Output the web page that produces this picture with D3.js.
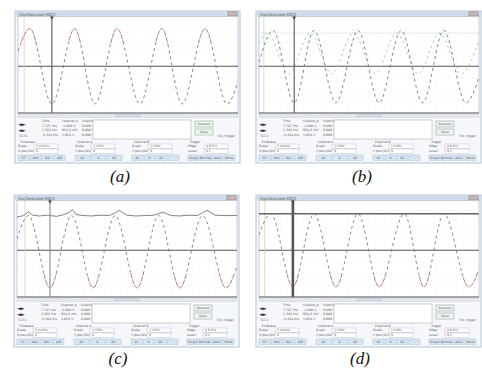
<!DOCTYPE html>
<html><head><meta charset="utf-8">
<script src="https://cdn.jsdelivr.net/npm/d3@7"></script>
<style>html,body{margin:0;padding:0;background:#fff;}svg{display:block;}</style>
</head><body>
<svg id="c" width="482" height="371"></svg>
<script>
// ---------- data ----------
const panelLabels = ["(a)", "(b)", "(c)", "(d)"];
const timeDomain = [0, 50];          // ms across the screen (10 div x 5 ms)
const voltDomain = [-1.24, 1.32];    // V
const gridT = [5, 10, 15, 20, 25, 30, 35, 40, 45];
const gridV = [-0.95, -0.63, -0.32, 0.32, 0.63, 0.95];

// (a) channel A sine: extrema
const aT = [0, 2.7, 7.7, 12.9, 17.5, 22.5, 27.7, 32.7, 37.3, 42.5, 47.5, 50];
const aV = [0.4, 1.0, -1.0, 1.0, -1.0, 1.0, -1.0, 1.0, -1.0, 1.0, -1.0, -0.4];
// (b) channel A (dark) and channel B (green)
const bT = [0, 3.2, 8.0, 12.5, 17.5, 22.5, 27.3, 32.3, 37.2, 42.0, 47.0, 50];
const bV = [0.1, 0.95, -0.97, 0.95, -0.97, 0.95, -0.97, 0.95, -0.97, 0.95, -0.97, -0.3];
const bGreenT = [0, 1.9, 6.8, 11.6, 16.6, 21.4, 26.4, 31.3, 36.2, 41.0, 46.0, 50];
const bGreenV = [0.6, 0.88, -0.2, 0.88, -0.2, 0.88, -0.2, 0.88, -0.2, 0.88, -0.2, 0.7];
// (c) clipped sine and noisy upper trace
const cT = [0, 2.6, 7.5, 12.4, 17.3, 22.3, 27.3, 32.2, 37.0, 42.2, 47.5, 50];
const cV = [0.3, 0.92, -1.0, 0.92, -1.0, 0.92, -1.0, 0.92, -1.0, 0.92, -1.0, -0.4];
const cTopT = [0, 1.5, 2.6, 3.6, 5, 7, 9, 10.5, 11.8, 12.6, 13.4, 15, 17, 19, 21, 22.3, 23.2, 25, 27, 29, 31, 32.2, 33.2, 35, 37, 39, 41, 42.2, 43.2, 45, 47, 50];
const cTopV = [0.88, 0.92, 1.02, 0.93, 0.91, 0.93, 0.90, 0.94, 1.0, 1.08, 0.95, 0.92, 0.91, 0.93, 0.92, 0.99, 1.06, 0.93, 0.91, 0.92, 0.93, 0.97, 1.01, 0.92, 0.91, 0.93, 0.92, 1.0, 1.06, 0.93, 0.92, 0.92];
// (d) sine with level line
const dT = [0, 2.7, 7.7, 12.5, 17.5, 22.5, 27.3, 33.0, 37.5, 42.0, 47.7, 50];
const dV = [0.4, 0.97, -0.97, 0.97, -0.97, 0.97, -0.97, 0.97, -0.97, 0.97, -0.97, -0.5];
const dLevel = [0.97];

// cursors (T1 dark, T2 faint) in ms
const cursorT1 = [7.7, 8.0, 7.5, 7.7];
const cursorT2 = [1.4, 1.1, 1.8, 1.3];

// readout texts
const readHead = ["Time", "Channel_A", "Channel_B"];
const readRows = [
  ["7.727 ms", "-1.000 V", "0.000 V"],
  ["1.364 ms", "954.2 mV", "0.000 V"],
  ["-6.364 ms", "1.954 V", "0.000 V"]
];

// ---------- layout ----------
const svg = d3.select("#c");
const origins = [[15, 11], [256, 11], [14, 195], [256, 195]];
const labelPos = [[120, 182], [362, 182], [118, 364], [360, 364]];
const W = 225, H = 152;
const plot = {x0: 3, x1: 223, y0: 5.5, y1: 102};

const line = (x, y) => d3.line().x(d => x(d[0])).y(d => y(d[1])).curve(d3.curveMonotoneX);
const zip = (t, v) => t.map((d, i) => [d, v[i]]);

function drawWindow(g, idx) {
  g.append("rect").attr("x", 0).attr("y", 0).attr("width", W).attr("height", H)
    .attr("fill", "#f5f7fa").attr("stroke", "#b4c3d6").attr("stroke-width", 1);
  g.append("rect").attr("x", 0.5).attr("y", 0.5).attr("width", W - 1).attr("height", 5)
    .attr("fill", "#cddbeb");
  g.append("text").attr("x", 4).attr("y", 4.6).attr("font-size", 4).attr("font-family", "DejaVu Sans")
    .attr("fill", "#555").text("Oscilloscope-XSC1");
  g.append("rect").attr("x", 213).attr("y", 0.8).attr("width", 9).attr("height", 4)
    .attr("fill", "#c9b8bb").attr("stroke", "#a99");
  g.append("rect").attr("x", plot.x0).attr("y", plot.y0).attr("width", plot.x1 - plot.x0)
    .attr("height", plot.y1 - plot.y0).attr("fill", "#fff").attr("stroke", "#a8b0b8").attr("stroke-width", 0.6);
  // scrollbar
  g.append("rect").attr("x", plot.x0).attr("y", 102.5).attr("width", plot.x1 - plot.x0).attr("height", 4)
    .attr("fill", "#e3e7ec").attr("stroke", "#c8ced6").attr("stroke-width", 0.4);
  g.append("rect").attr("x", 100).attr("y", 103).attr("width", 26).attr("height", 3)
    .attr("fill", "#cfd6df");

  const ft = "DejaVu Sans";
  const tc = "#555";
  g.append("text").attr("x", 3).attr("y", 115).attr("font-size", 5).attr("font-weight", "bold")
    .attr("font-family", ft).attr("fill", "#333").text("◄►");
  g.append("text").attr("x", 3).attr("y", 121).attr("font-size", 5).attr("font-weight", "bold")
    .attr("font-family", ft).attr("fill", "#333").text("◄►");
  g.append("text").attr("x", 4).attr("y", 126).attr("font-size", 3).attr("font-family", ft)
    .attr("fill", tc).text("T2-T1");
  readHead.forEach((h, j) => {
    g.append("text").attr("x", 27 + j * 20).attr("y", 111).attr("font-size", 3).attr("font-family", ft)
      .attr("fill", tc).text(h);
  });
  readRows.forEach((r, i) => r.forEach((s, j) => {
    g.append("text").attr("x", 27 + j * 20).attr("y", 115.5 + i * 4.5).attr("font-size", 3.2)
      .attr("font-family", ft).attr("fill", tc).text(s);
  }));
  g.append("rect").attr("x", 78).attr("y", 109).attr("width", 98).attr("height", 19)
    .attr("fill", "#fff").attr("stroke", "#9aa3ad").attr("stroke-width", 0.5);
  [["Reverse", 110], ["Save", 118]].forEach(([s, y]) => {
    g.append("rect").attr("x", 180).attr("y", y).attr("width", 18).attr("height", 6)
      .attr("fill", "#eef5ef").attr("stroke", idx === 0 ? "#6fb27a" : "#8a98a8").attr("stroke-width", 0.5);
    g.append("text").attr("x", 189).attr("y", y + 4.2).attr("text-anchor", "middle").attr("font-size", 3.2)
      .attr("font-family", ft).attr("fill", tc).text(s);
  });
  g.append("text").attr("x", 203).attr("y", 126).attr("font-size", 3).attr("font-family", ft)
    .attr("fill", tc).text("Ext. trigger");

  const groups = [
    {x: 3, name: "Timebase", r1: ["Scale:", "5 ms/Div"], r2: ["X pos.(Div):", "0"], btn: ["Y/T", "Add", "B/A", "A/B"]},
    {x: 60, name: "Channel A", r1: ["Scale:", "1 V/Div"], r2: ["Y pos.(Div):", "0"], btn: ["AC", "0", "DC"]},
    {x: 117, name: "Channel B", r1: ["Scale:", "1 V/Div"], r2: ["Y pos.(Div):", "0"], btn: ["AC", "0", "DC", "-"]},
    {x: 173, name: "Trigger", r1: ["Edge:", "A  B  Ext"], r2: ["Level:", "0 V"], btn: ["Single", "Normal", "Auto", "None"]}
  ];
  groups.forEach(gr => {
    g.append("text").attr("x", gr.x + 2).attr("y", 131.5).attr("font-size", 3).attr("font-family", ft)
      .attr("fill", tc).text(gr.name);
    [gr.r1, gr.r2].forEach((r, i) => {
      const yy = 133 + i * 5;
      g.append("text").attr("x", gr.x).attr("y", yy + 3.3).attr("font-size", 3.2).attr("font-family", ft)
        .attr("fill", tc).text(r[0]);
      g.append("rect").attr("x", gr.x + 16).attr("y", yy).attr("width", 24).attr("height", 4.4)
        .attr("fill", "#fff").attr("stroke", "#a9b4c0").attr("stroke-width", 0.4);
      g.append("text").attr("x", gr.x + 18).attr("y", yy + 3.3).attr("font-size", 3).attr("font-family", ft)
        .attr("fill", tc).text(r[1]);
    });
    const bw = 48 / gr.btn.length;
    gr.btn.forEach((b, k) => {
      g.append("rect").attr("x", gr.x + k * bw).attr("y", 144).attr("width", bw - 1).attr("height", 5.5)
        .attr("fill", "#d8e5f3").attr("stroke", "#9fb3c9").attr("stroke-width", 0.4);
      g.append("text").attr("x", gr.x + k * bw + (bw - 1) / 2).attr("y", 147.8).attr("text-anchor", "middle")
        .attr("font-size", 3).attr("font-family", ft).attr("fill", tc).text(b);
    });
  });
}

function drawPanel(idx) {
  const [ox, oy] = origins[idx];
  const g = svg.append("g").attr("transform", `translate(${ox},${oy})`);
  drawWindow(g, idx);
  const x = d3.scaleLinear().domain(timeDomain).range([plot.x0, plot.x1]);
  const y = d3.scaleLinear().domain(voltDomain).range([plot.y1, plot.y0]);
  const clipId = "clip" + idx;
  g.append("clipPath").attr("id", clipId).append("rect")
    .attr("x", plot.x0).attr("y", plot.y0).attr("width", plot.x1 - plot.x0).attr("height", plot.y1 - plot.y0);
  const p = g.append("g").attr("clip-path", `url(#${clipId})`);

  p.selectAll(".gx").data(gridT).join("line").attr("x1", d => x(d)).attr("x2", d => x(d))
    .attr("y1", plot.y0).attr("y2", plot.y1).attr("stroke", "#efe6e6").attr("stroke-width", 0.6)
    .attr("stroke-dasharray", "1,2");
  p.selectAll(".gy").data(gridV).join("line").attr("y1", d => y(d)).attr("y2", d => y(d))
    .attr("x1", plot.x0).attr("x2", plot.x1).attr("stroke", idx === 1 ? "#dcecd8" : "#f0e4e0").attr("stroke-width", 0.6)
    .attr("stroke-dasharray", "1,2");
  p.append("line").attr("x1", plot.x0).attr("x2", plot.x1).attr("y1", y(0)).attr("y2", y(0))
    .attr("stroke", "#555").attr("stroke-width", 1);
  p.append("line").attr("x1", x(cursorT2[idx])).attr("x2", x(cursorT2[idx]))
    .attr("y1", plot.y0).attr("y2", plot.y1).attr("stroke", idx === 1 ? "#bfe0bf" : "#f3c9a8").attr("stroke-width", 0.8);

  const L = line(x, y);
  const wave = "#7a7a7a";
  const dash = (data, color, w, da, off) => p.append("path").attr("d", L(data)).attr("fill", "none")
    .attr("stroke", color).attr("stroke-width", w).attr("stroke-dasharray", da).attr("stroke-dashoffset", off || 0);
  const red = (data, id, y0, h) => {
    g.append("clipPath").attr("id", id).append("rect").attr("x", 0).attr("y", y0).attr("width", W).attr("height", h);
    p.append("path").attr("d", L(data)).attr("fill", "none").attr("stroke", "#d9625f").attr("stroke-width", 0.9)
      .attr("stroke-dasharray", "2,4").attr("stroke-dashoffset", 2).attr("clip-path", `url(#${id})`);
  };

  if (idx === 0) {
    const d = zip(aT, aV);
    dash(d, wave, 0.9, "3,3");
    red(d, "red0", 0, y(0.6));
  } else if (idx === 1) {
    p.append("line").attr("x1", plot.x0).attr("x2", plot.x1).attr("y1", y(0.88)).attr("y2", y(0.88))
      .attr("stroke", "#d2e2d2").attr("stroke-width", 0.7);
    dash(zip(bGreenT, bGreenV), "#9ad49a", 0.9, "2.5,3");
    dash(zip(bT, bV), wave, 0.9, "3,3");
  } else if (idx === 2) {
    const d = zip(cT, cV);
    dash(d, wave, 0.9, "3,3");
    red(d, "red2", y(-0.6), 60);
    p.append("path").attr("d", d3.line().x(e => x(e[0])).y(e => y(e[1])).curve(d3.curveLinear)(zip(cTopT, cTopV)))
      .attr("fill", "none").attr("stroke", "#666").attr("stroke-width", 0.8);
  } else {
    const d = zip(dT, dV);
    dash(d, wave, 0.9, "3,3");
    red(d, "red3", y(-0.6), 60);
    p.selectAll(".lvl").data(dLevel).join("line").attr("x1", plot.x0).attr("x2", plot.x1)
      .attr("y1", v => y(v)).attr("y2", v => y(v)).attr("stroke", "#666").attr("stroke-width", 1.6);
  }
  const cx = x(cursorT1[idx]);
  p.append("line").attr("x1", cx).attr("x2", cx).attr("y1", plot.y0).attr("y2", plot.y1)
    .attr("stroke", idx === 2 ? "#8a8a8a" : "#555").attr("stroke-width", idx === 3 ? 2.6 : 1.1);
  g.append("path").attr("d", `M${cx - 2},${plot.y0} L${cx + 2},${plot.y0} L${cx},${plot.y0 + 3}Z`).attr("fill", "#444");

  g.append("line").attr("x1", plot.x0).attr("x2", plot.x1).attr("y1", plot.y1).attr("y2", plot.y1)
    .attr("stroke", "#666").attr("stroke-width", 1);

  const [lx, ly] = labelPos[idx];
  svg.append("text").attr("x", lx).attr("y", ly).attr("text-anchor", "middle")
    .attr("font-family", "Liberation Serif").attr("font-style", "italic").attr("font-size", 17)
    .attr("fill", "#111").text(panelLabels[idx]);
}

[0, 1, 2, 3].forEach(drawPanel);
</script>
</body></html>
